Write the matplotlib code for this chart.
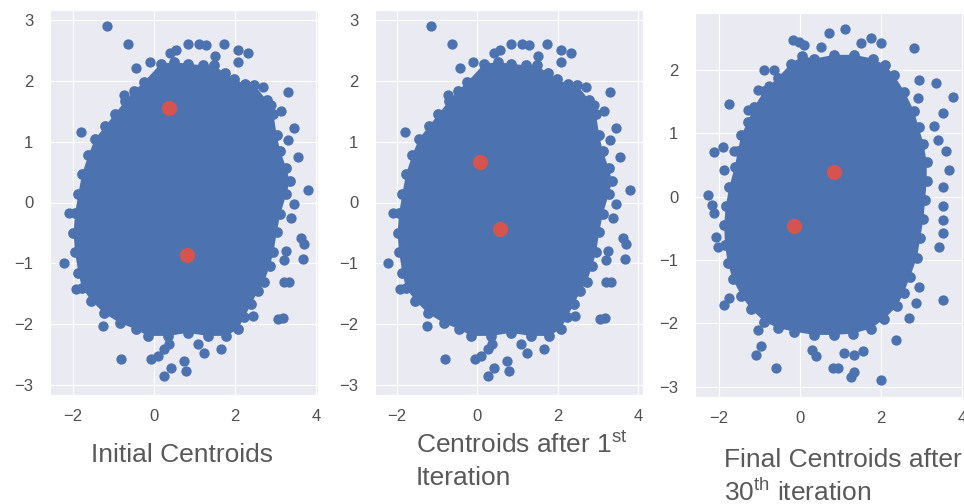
import matplotlib
matplotlib.use('Agg')
import matplotlib.pyplot as plt
import seaborn as sns

sns.set_style('darkgrid')
plt.rcParams['font.family'] = ['Liberation Sans', 'DejaVu Sans']
plt.rcParams['mathtext.fontset'] = 'custom'
plt.rcParams['mathtext.rm'] = 'Liberation Sans'

BLUE = '#4C72B0'
RED = '#d65450'
TEXT = '#595959'

# dense core outline of the sample used in panels 1 and 2 (approximate)
core1_x = [-0.25, 0.17, 0.5, 0.83, 1.2, 1.49, 1.75, 1.98, 2.25, 2.48,
           2.78, 2.95, 3.03, 3.12, 3.27, 3.35, 3.27, 3.12, 3.03, 2.95, 2.86, 2.72, 2.56, 2.4, 2.23,
           2.07, 1.78, 1.33, 0.83, 0.34, -0.16, -0.45, -0.84, -1.23, -1.55, -1.78, -1.87, -1.95,
           -1.99, -1.95, -1.87, -1.78, -1.62, -1.46, -1.2, -0.97, -0.72, -0.49]
core1_y = [1.98, 2.28, 2.3, 2.28, 2.25, 2.25, 2.12, 2.02, 1.95, 1.93,
           1.68, 1.45, 1.1, 0.84, 0.56, 0.35, 0.14, -0.19, -0.49, -0.82, -1.04, -1.3, -1.46, -1.67, -1.88,
           -2.08, -2.19, -2.19, -2.14, -2.19, -2.19, -2.08, -1.98, -1.82, -1.61, -1.4, -1.15, -0.82,
           -0.5, -0.18, 0.14, 0.46, 0.78, 1.04, 1.26, 1.45, 1.66, 1.83]
# stray points around the core
out1_x = [-1.16, -0.64, -0.44, 0.83, 1.11, 1.28, 1.73, 2.07, 2.32, 2.07, 3.31, 3.46, 3.56, 3.80, 3.46,
          3.38, 3.63, 3.70, 3.26, 3.67, 3.21, 3.21, 3.33, 3.06, 3.18, -2.22, -2.10, -1.80, -1.93, -1.26,
          -0.81, -0.07, 0.10, 0.25, 0.37, 0.42, 0.25, 0.79, 0.74, 1.23, 1.65, 1.09, 2.44, 3.14, 3.31,
          0.4, 0.55, 1.5, -0.74, -0.1, 2.7, 2.9]
out1_y = [2.89, 2.61, 2.2, 2.61, 2.61, 2.58, 2.61, 2.5, 2.45, 2.30, 1.81, 1.23, 0.74, 0.20, -0.02,
          -0.25, -0.58, -0.68, -0.79, -0.92, -0.95, -1.31, -1.31, -1.91, -1.89, -1.0, -0.18, 1.15, -1.42, -2.02,
          -2.57, -2.57, -2.52, -2.40, -2.32, -2.71, -2.85, -2.76, -2.6, -2.47, -2.40, -2.32, -1.86, 1.51, 1.02,
          2.45, 2.5, 2.4, 1.76, 2.3, 1.9, 1.6]

# final-run sample (panel 3)
core3_x = [-0.22, 0.05, 0.35, 0.85, 1.34, 1.8, 2.1, 2.32, 2.58, 2.81, 2.93, 3.05, 3.13, 3.13, 3.09,
           3.05, 2.97, 2.89, 2.72, 2.56, 2.39, 2.08, 1.75, 1.3, 0.85, 0.35, -0.14, -0.55, -0.88, -1.21,
           -1.45, -1.66, -1.78, -1.85, -1.87, -1.83, -1.74, -1.61, -1.53, -1.45, -1.29, -1.13, -0.88, -0.55]
core3_y = [2.1, 2.22, 2.18, 2.24, 2.24, 2.18, 2.08, 1.92, 1.66, 1.36, 1.1, 0.84, 0.55, 0.25, -0.05,
           -0.35, -0.65, -0.96, -1.26, -1.52, -1.73, -1.93, -2.08, -2.16, -2.18, -2.18, -2.13, -2.07, -1.97, -1.77,
           -1.56, -1.3, -1.05, -0.76, -0.45, -0.14, 0.16, 0.47, 0.72, 0.97, 1.18, 1.42, 1.67, 1.88]
out3_x = [-0.18, -0.02, 0.11, 0.72, 1.11, 0.52, 1.75, 2.0, 1.51, 2.82, 2.95, 3.36, 3.77, 3.52, 2.91,
          3.32, 3.40, 3.60, 3.69, 3.52, 3.52, 3.52, 3.52, 3.44, 3.52, 2.95, 2.86, 2.70, 2.37, 2.0,
          1.34, 1.26, 0.81, 0.93, 1.09, 1.34, 1.55, 0.31, 0.40, -0.59, -1.09, -0.96, -1.04, -1.87, -1.75,
          -2.28, -2.16, -2.12, -2.07, -2.03, -2.12, -1.91, -1.87, -1.62, -1.75, -1.29, -1.04, -0.76, -0.88, -0.63]
out3_y = [2.48, 2.45, 2.40, 2.59, 2.64, 2.37, 2.51, 2.43, 2.43, 2.35, 1.85, 1.80, 1.58, 1.32, 1.56,
          1.11, 0.90, 0.72, 0.43, 0.16, -0.15, -0.36, -0.57, -0.79, -1.63, -1.42, -1.68, -1.92, -2.26, -2.89,
          -2.76, -2.84, -2.71, -2.71, -2.47, -2.50, -2.44, -2.42, -2.52, -2.71, -2.50, -2.36, -2.10, -1.71, -1.60,
          0.03, -0.13, -0.26, -0.63, -0.79, 0.70, 0.79, 0.43, 0.72, 1.46, 1.37, 1.69, 1.75, 2.0, 2.0]

# centroids
cent1_x, cent1_y = [0.37, 0.81], [1.55, -0.87]
cent2_x, cent2_y = [0.07, 0.57], [0.67, -0.43]
cent3_x, cent3_y = [0.84, -0.15], [0.39, -0.46]

panels = [
    (core1_x, core1_y, out1_x, out1_y, cent1_x, cent1_y, (-2.57, 4.05), (-3.16, 3.16), [-3, -2, -1, 0, 1, 2, 3]),
    (core1_x, core1_y, out1_x, out1_y, cent2_x, cent2_y, (-2.55, 4.12), (-3.16, 3.16), [-3, -2, -1, 0, 1, 2, 3]),
    (core3_x, core3_y, out3_x, out3_y, cent3_x, cent3_y, (-2.59, 4.05), (-3.16, 2.90), [-3, -2, -1, 0, 1, 2]),
]
# axes boxes in pixels: left, top, right, bottom
boxes = [(50, 10, 318, 395), (375, 10, 643, 395), (695, 13, 964, 397)]

W, H = 964, 504
fig = plt.figure(figsize=(W / 100, H / 100), dpi=100)

for (cx, cy, ox, oy, kx, ky, xl, yl, yt), (l, t, r, b) in zip(panels, boxes):
    ax = fig.add_axes([l / W, (H - b) / H, (r - l) / W, (b - t) / H])
    ax.fill(cx, cy, color=BLUE, lw=0, zorder=2)
    ax.scatter(cx, cy, s=60, color=BLUE, linewidths=0, zorder=2)
    ax.scatter(ox, oy, s=55, color=BLUE, linewidths=0, zorder=2)
    ax.scatter(kx, ky, s=120, color=RED, linewidths=0, zorder=3)
    ax.set_xlim(*xl)
    ax.set_ylim(*yl)
    ax.set_xticks([-2, 0, 2, 4])
    ax.set_yticks(yt)
    ax.tick_params(length=0, labelsize=12, labelcolor='#505050')
    ax.tick_params(axis='y', pad=12)
    ax.tick_params(axis='x', pad=10)

fig.text(91 / W, (H - 455) / H, 'Initial Centroids', fontsize=19, color=TEXT, va='center')
fig.text(416 / W, (H - 445) / H, r'Centroids after 1$^{\mathrm{st}}$', fontsize=19, color=TEXT, va='center')
fig.text(416 / W, (H - 478) / H, 'Iteration', fontsize=19, color=TEXT, va='center')
fig.text(724 / W, (H - 460) / H, 'Final Centroids after', fontsize=19, color=TEXT, va='center')
fig.text(724 / W, (H - 492) / H, r'30$^{\mathrm{th}}$ iteration', fontsize=19, color=TEXT, va='center')

fig.savefig('out.png', dpi=100)
